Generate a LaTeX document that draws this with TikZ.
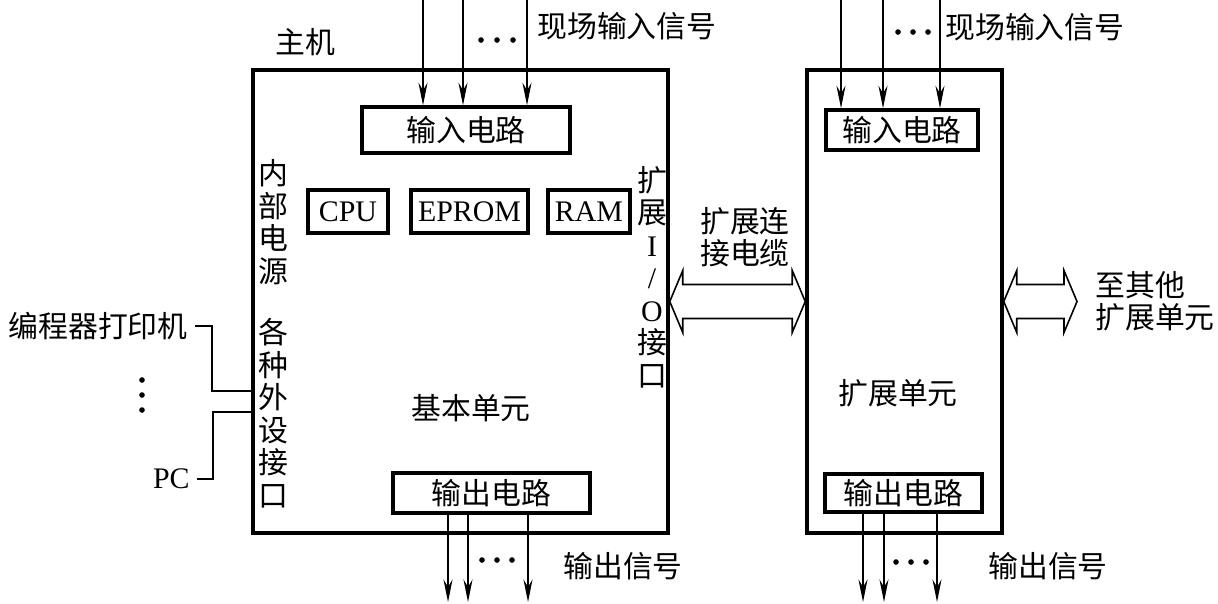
\documentclass[tikz,border=0pt]{standalone}
\usepackage{fontspec}
\setmainfont{Liberation Serif}
\newfontfamily\cjk{Noto Sans CJK SC}
\usetikzlibrary{arrows.meta,fit,calc}

\tikzset{
  box/.style={draw, line width=2pt, inner sep=0pt},
  sig/.style={line width=0.9pt, -{Stealth[length=4.5mm,width=1.8mm,inset=1.5mm]}},
  wire/.style={line width=1.2pt},
  cable/.style={line width=0.9pt, line join=miter},
  txt/.style={inner sep=0pt, font=\fontsize{17}{18.5}\selectfont\cjk},
  lat/.style={inner sep=0pt, font=\fontsize{17}{18.5}\selectfont\rmfamily},
}

% hollow double arrow between two tips
\newcommand{\hollowarrow}[2]{%
  \draw[cable] (#1) -- ++(13,-31) -- ++(0,14) -- ($(#2)+(-13,-17)$) -- ++(0,-14)
    -- (#2) -- ++(-13,31) -- ++(0,-14) -- ($(#1)+(13,17)$) -- ++(0,14) -- cycle;}

\begin{document}
\begin{tikzpicture}[x=0.02cm, y=-0.02cm]
  \useasboundingbox (0,0) rectangle (1218,603);

  % Basic unit
  \node[box, fit={(253,70) (668,533)}] (host) {};
  \node[txt] (hostlbl) at (305,42) {主机};
  \node[box, txt, minimum width=4.16cm, minimum height=0.92cm] (inA) at (466,130) {输入电路};
  \node[box, lat, minimum width=1.6cm, minimum height=0.86cm] (cpu) at (348,211.5) {CPU};
  \node[box, lat, minimum width=2.34cm, minimum height=0.86cm] (eprom) at (469.5,211.5) {EPROM};
  \node[box, lat, minimum width=1.64cm, minimum height=0.86cm] (ram) at (589,211.5) {RAM};
  \node[box, txt, minimum width=3.94cm, minimum height=0.8cm] (outA) at (491.5,493) {输出电路};
  \node[txt] (base) at (471,408) {基本单元};
  \node[txt, align=center] (pwr) at (273,222) {内\\部\\电\\源};
  \node[txt, align=center] (perif) at (273,413) {各\\种\\外\\设\\接\\口};
  \node[txt, align=center] (xio) at (652,277) {扩\\展\\{\rmfamily I}\\{\rmfamily /}\\{\rmfamily O}\\接\\口};

  % Expansion unit
  \node[box, fit={(807,70) (1002,533)}] (expu) {};
  \node[box, txt, minimum width=3.04cm, minimum height=0.8cm] (inB) at (902,130) {输入电路};
  \node[box, txt, minimum width=3.14cm, minimum height=0.76cm] (outB) at (903.5,493) {输出电路};
  \node[txt] (extlbl) at (898,393) {扩展单元};

  % Field inputs
  \coordinate (a1) at (423,0); \coordinate (a2) at (463,0); \coordinate (a3) at (527,0);
  \coordinate (c1) at (841,0); \coordinate (c2) at (883,0); \coordinate (c3) at (940,0);
  \foreach \p in {a1,a2,a3} \draw[sig] (\p) -- (\p |- inA.north);
  \foreach \p in {c1,c2,c3} \draw[sig] (\p) -- (\p |- inB.north);
  \foreach \x in {481,497,513} \fill (\x,40) circle (1.6pt);
  \foreach \x in {898,913,928} \fill (\x,32) circle (1.6pt);
  \node[txt, anchor=west] (inlblA) at (537,26) {现场输入信号};
  \node[txt, anchor=west] (inlblB) at (945,27) {现场输入信号};

  % Outputs
  \coordinate (b1) at (448,602); \coordinate (b2) at (468,602); \coordinate (b3) at (528,602);
  \coordinate (d1) at (863,602); \coordinate (d2) at (884,602); \coordinate (d3) at (937,602);
  \foreach \p in {b1,b2,b3} \draw[sig] (\p |- outA.south) -- (\p);
  \foreach \p in {d1,d2,d3} \draw[sig] (\p |- outB.south) -- (\p);
  \foreach \x in {482,497,512} \fill (\x,560) circle (1.6pt);
  \foreach \x in {896,911,926} \fill (\x,562) circle (1.6pt);
  \node[txt, anchor=west] (outlblA) at (563,566) {输出信号};
  \node[txt, anchor=west] (outlblB) at (988,566) {输出信号};

  % Cables
  \coordinate (others) at (1077,301.5);
  \hollowarrow{host.east}{expu.west}
  \hollowarrow{expu.east}{others}
  \node[txt, align=center] (cablelbl) at (745,237) {扩展连\\接电缆};
  \node[txt, align=left, anchor=west] (otherlbl) at (1095,301) {至其他\\扩展单元};

  % Peripherals
  \coordinate (p1) at (253,391); \coordinate (p2) at (253,412);
  \node[txt, anchor=east] (prog) at (188,326) {编程器打印机};
  \node[lat, anchor=east] (pc) at (190,479) {PC};
  \foreach \y in {380,395,410} \fill (142,\y) circle (1.6pt);
  \draw[wire] ([xshift=4pt]prog.east) -| ([xshift=-0.82cm]p1) -- (p1);
  \draw[wire] ([xshift=4pt]pc.east) -| ([xshift=-0.8cm]p2) -- (p2);
\end{tikzpicture}
\end{document}
